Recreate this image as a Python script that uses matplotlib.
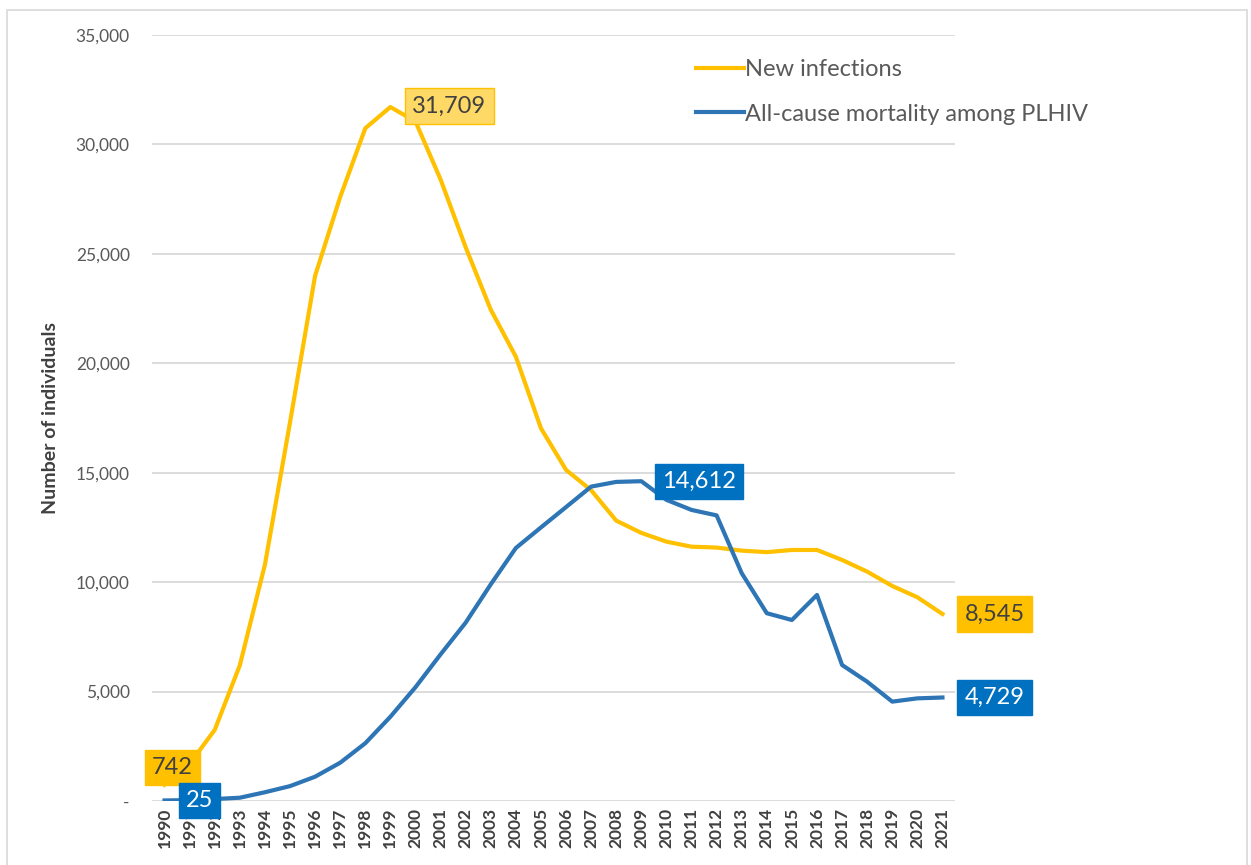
import matplotlib
matplotlib.use("Agg")
import matplotlib.pyplot as plt
from matplotlib.patches import Rectangle
from matplotlib.ticker import FuncFormatter

plt.rcParams['font.family'] = ['Lato', 'DejaVu Sans']

years = list(range(1990, 2022))
new_infections = [742, 1700, 3250, 6200, 10800, 17300, 24000, 27600, 30740, 31709,
                  31050, 28400, 25300, 22450, 20300, 17030, 15130, 14200, 12810, 12250,
                  11850, 11620, 11580, 11440, 11370, 11470, 11470, 11015, 10480, 9825,
                  9310, 8545]
mortality = [25, 40, 90, 150, 400, 680, 1110, 1750, 2640, 3850,
             5200, 6700, 8150, 9900, 11560, 12500, 13430, 14365, 14580, 14612,
             13760, 13300, 13050, 10410, 8580, 8270, 9415, 6215, 5450, 4540,
             4690, 4729]
y_ticks = [0, 5000, 10000, 15000, 20000, 25000, 30000, 35000]

YELLOW = "#FFC000"
BLUE_LINE = "#2E75B6"
BLUE_BOX = "#0070C0"
GRID = "#D9D9D9"
TXT = "#595959"

fig = plt.figure(figsize=(12.51, 8.65), dpi=100)
fig.patches.append(Rectangle((7 / 1251, -0.01), 1240 / 1251, 1 - 10 / 865 + 0.01,
                             transform=fig.transFigure, fill=False,
                             edgecolor=GRID, linewidth=1.2))
ax = fig.add_axes([152 / 1251, 1 - 801 / 865, (955 - 152) / 1251, (801 - 35) / 865])

x = list(range(len(years)))
ax.plot(x, new_infections, color=YELLOW, lw=3.0, solid_joinstyle='round',
        label="New infections", zorder=3)
ax.plot(x, mortality, color=BLUE_LINE, lw=3.0, solid_joinstyle='round',
        label="All-cause mortality among PLHIV", zorder=3)

ax.set_xlim(-0.5, len(years) - 0.5)
ax.set_ylim(0, 35000)
ax.set_yticks(y_ticks)
ax.yaxis.set_major_formatter(FuncFormatter(lambda v, p: "-" if v == 0 else f"{int(v):,}"))
ax.set_xticks(x)
ax.set_xticklabels([str(y) for y in years], rotation=90, fontweight='bold',
                   fontsize=12.5, color="#404040")
ax.tick_params(axis='y', length=0, pad=16, labelsize=12.5, labelcolor=TXT)
ax.tick_params(axis='x', length=0, pad=5)
ax.grid(axis='y', color=GRID, lw=1.3)
ax.set_axisbelow(True)
for s in ax.spines.values():
    s.set_visible(False)

ax.set_ylabel("Number of individuals", fontsize=14, fontweight='bold',
              color="#404040", labelpad=12)

def box_label(idx, values, text, dx, dy, face, edge, color):
    ax.annotate(text, xy=(idx, values[idx]), xytext=(dx, dy),
                textcoords='offset pixels', ha='center', va='center',
                fontsize=17, color=color, zorder=5,
                bbox=dict(boxstyle='square,pad=0.3', facecolor=face,
                          edgecolor=edge, linewidth=1))

box_label(0, new_infections, f"{new_infections[0]:,}", 8, 17, YELLOW, YELLOW, "#404040")
box_label(0, mortality, f"{mortality[0]:,}", 35, 0, BLUE_BOX, BLUE_BOX, "white")
box_label(9, new_infections, f"{new_infections[9]:,}", 59, 1, "#FFD966", YELLOW, "#404040")
box_label(19, mortality, f"{mortality[19]:,}", 58, 0, BLUE_BOX, BLUE_BOX, "white")
box_label(31, new_infections, f"{new_infections[31]:,}", 52, 0, YELLOW, YELLOW, "#404040")
box_label(31, mortality, f"{mortality[31]:,}", 52, 0, BLUE_BOX, BLUE_BOX, "white")

leg = ax.legend(loc='upper left', bbox_to_anchor=(535 / 803, 1 - 15 / 766),
                frameon=False, fontsize=17, handlelength=2.0, handletextpad=0.05,
                labelspacing=0.98, borderaxespad=0)
for t in leg.get_texts():
    t.set_color(TXT)

fig.savefig("out.png", dpi=100)
